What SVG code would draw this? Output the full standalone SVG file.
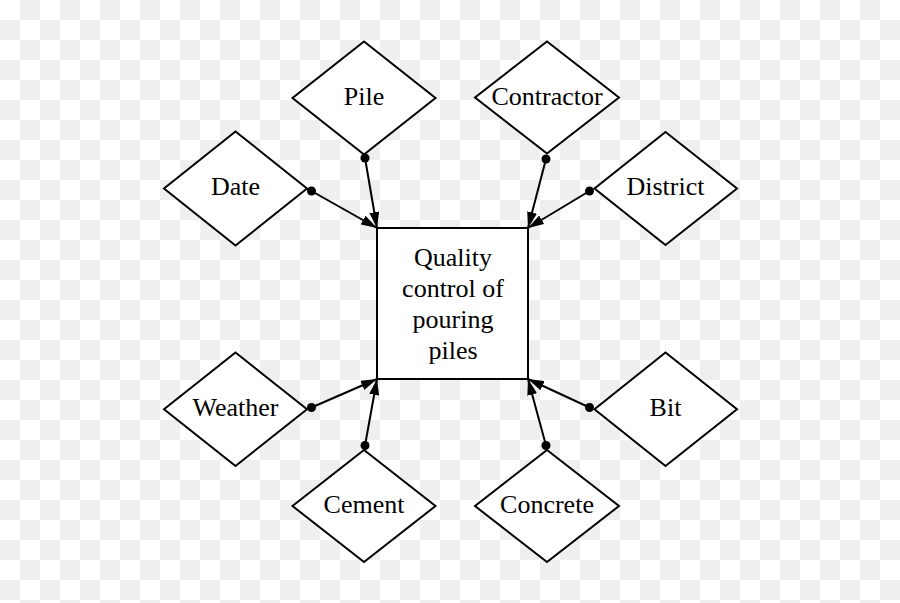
<svg xmlns="http://www.w3.org/2000/svg" width="900" height="603" viewBox="0 0 900 603">
  <style>
    .shape { fill: #ffffff; stroke: #000000; stroke-width: 2; }
    .edge { stroke: #000000; stroke-width: 2; fill: none; }
    .dot { fill: #000000; }
    text { font-family: "Liberation Serif", "Times New Roman", serif; font-size: 26px; fill: #000000; text-anchor: middle; }
  </style>
  <defs>
    <pattern id="checker" x="0" y="0" width="40" height="40" patternUnits="userSpaceOnUse">
      <rect x="0" y="0" width="40" height="40" fill="#ffffff"/>
      <rect x="20" y="0" width="20" height="20" fill="#efefef"/>
      <rect x="0" y="20" width="20" height="20" fill="#efefef"/>
    </pattern>
    <marker id="arrow" viewBox="0 0 16 10" markerWidth="16" markerHeight="10" refX="16" refY="5" orient="auto" markerUnits="userSpaceOnUse">
      <path d="M0,0 L16,5 L0,10 z" fill="#000000"/>
    </marker>
  </defs>
  <rect x="0" y="0" width="900" height="603" fill="url(#checker)"/>

  <g id="connectors">
    <line class="edge" x1="365" y1="158" x2="377" y2="228" marker-end="url(#arrow)"/>
    <circle class="dot" cx="365" cy="158" r="4.5"/>
    <line class="edge" x1="311.5" y1="191" x2="377" y2="228" marker-end="url(#arrow)"/>
    <circle class="dot" cx="311.5" cy="191" r="4.5"/>
    <line class="edge" x1="546" y1="159" x2="528" y2="228" marker-end="url(#arrow)"/>
    <circle class="dot" cx="546" cy="159" r="4.5"/>
    <line class="edge" x1="589.5" y1="191" x2="528" y2="228" marker-end="url(#arrow)"/>
    <circle class="dot" cx="589.5" cy="191" r="4.5"/>
    <line class="edge" x1="311.5" y1="407.5" x2="377" y2="379" marker-end="url(#arrow)"/>
    <circle class="dot" cx="311.5" cy="407.5" r="4.5"/>
    <line class="edge" x1="365" y1="445.5" x2="377" y2="379" marker-end="url(#arrow)"/>
    <circle class="dot" cx="365" cy="445.5" r="4.5"/>
    <line class="edge" x1="546" y1="445.5" x2="528" y2="379" marker-end="url(#arrow)"/>
    <circle class="dot" cx="546" cy="445.5" r="4.5"/>
    <line class="edge" x1="589.5" y1="407.5" x2="528" y2="379" marker-end="url(#arrow)"/>
    <circle class="dot" cx="589.5" cy="407.5" r="4.5"/>
  </g>

  <g id="quality-control">
    <rect class="shape" x="377" y="228" width="151" height="151"/>
    <text x="453" y="266">Quality</text>
    <text x="453" y="296.5">control of</text>
    <text x="453" y="327.5">pouring</text>
    <text x="453" y="358.5">piles</text>
  </g>

  <g id="pile">
    <polygon class="shape" points="364,41.5 435.5,98 364,154.5 292.5,98"/>
    <text x="364" y="105">Pile</text>
  </g>
  <g id="contractor">
    <polygon class="shape" points="547,41.5 619,97.5 547,153.5 475,97.5"/>
    <text x="547" y="105">Contractor</text>
  </g>
  <g id="date">
    <polygon class="shape" points="235.5,131.5 307,188.5 235.5,245.5 164,188.5"/>
    <text x="235.5" y="195">Date</text>
  </g>
  <g id="district">
    <polygon class="shape" points="665.5,132 737,188.5 665.5,245 594.5,188.5"/>
    <text x="665.5" y="195">District</text>
  </g>
  <g id="weather">
    <polygon class="shape" points="235.5,352.5 307,409.3 235.5,466 164,409.3"/>
    <text x="235.5" y="416">Weather</text>
  </g>
  <g id="bit">
    <polygon class="shape" points="665.5,352.5 737,409.3 665.5,466 594.5,409.3"/>
    <text x="665.5" y="416">Bit</text>
  </g>
  <g id="cement">
    <polygon class="shape" points="364,450 435.5,506 364,562 292.5,506"/>
    <text x="364" y="513">Cement</text>
  </g>
  <g id="concrete">
    <polygon class="shape" points="547,450 619,506 547,562 475,506"/>
    <text x="547" y="513">Concrete</text>
  </g>
</svg>
